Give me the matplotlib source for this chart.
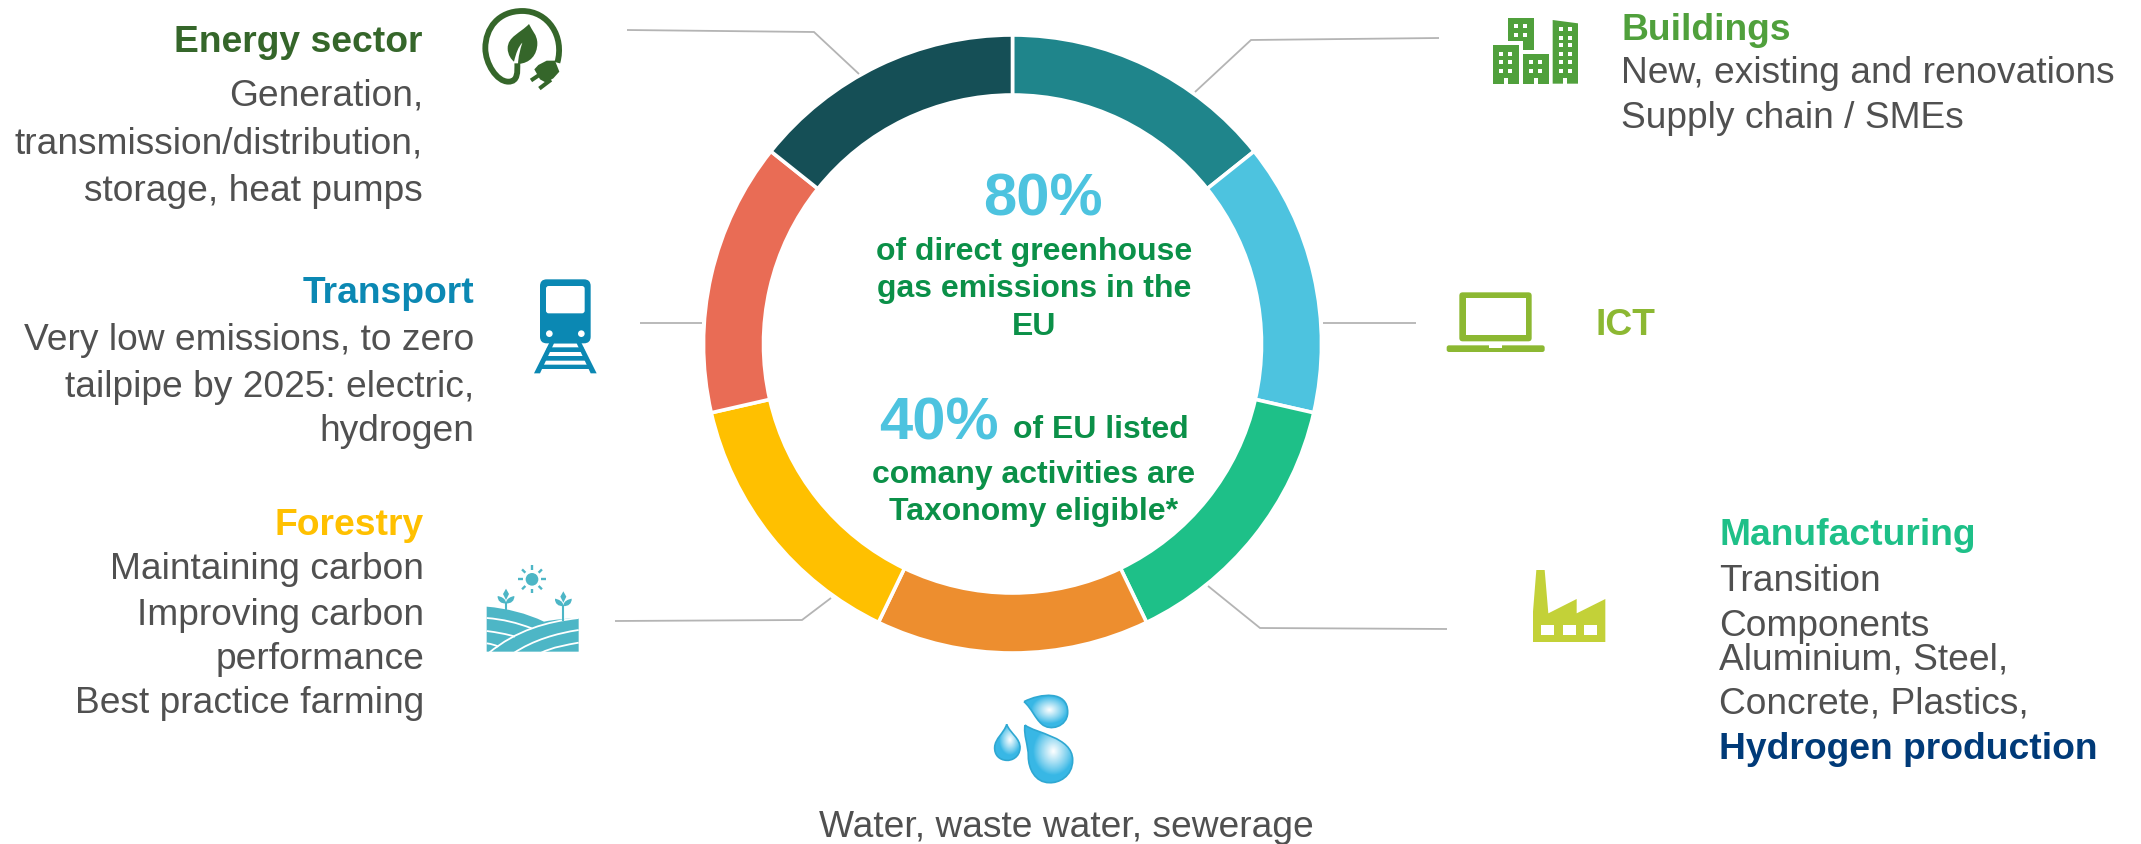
#!/usr/bin/env python3
"""EU Taxonomy sectors: seven-part ring with a label and pictogram per sector."""
import matplotlib
matplotlib.use("Agg")
import matplotlib.pyplot as plt
import matplotlib.patches as mpatches
from matplotlib.path import Path
import numpy as np

W, H = 2141, 844
FONT = "Liberation Sans"
plt.rcParams["font.family"] = FONT

# ring, clockwise from 12 o'clock
sectors = ["Buildings", "ICT", "Manufacturing", "Water", "Forestry", "Transport", "Energy sector"]
shares = [1, 1, 1, 1, 1, 1, 1]
ring_colors = ["#1F858B", "#4DC3DF", "#1EC088", "#ED8E2F", "#FFC000", "#E96C55", "#154F56"]

GREY = "#505050"
LINE = "#B4B4B4"
PCT = "#4DC3DF"
MID = "#0B9048"
DARKGREEN = "#35662A"
BUILD = "#50A03C"
ICT = "#8CB832"
TRAIN = "#0B88B3"
FIELD = "#4DB6C6"
FACTORY = "#C3D138"

BODY = 26.7
HEAD = 26.8

fig = plt.figure(figsize=(W / 100, H / 100), dpi=100)
fig.patch.set_facecolor("white")

# ── ring ───────────────────────────────────────────────────────────────────────
cx, cy, R, r = 1012.5, 344, 309, 249
axR = fig.add_axes([(cx - R) / W, 1 - (cy + R) / H, 2 * R / W, 2 * R / H])
axR.pie(shares, colors=ring_colors, startangle=90, counterclock=False, radius=1,
        wedgeprops=dict(width=(R - r) / R, edgecolor="white", linewidth=2.6))
axR.set_xlim(-1, 1)
axR.set_ylim(-1, 1)

# overlay in pixel coordinates for everything else
ax = fig.add_axes([0, 0, 1, 1])
ax.set_xlim(0, W)
ax.set_ylim(H, 0)
ax.axis("off")
ax.patch.set_alpha(0)


def label(x, y, s, color=GREY, size=BODY, bold=False, ha="left"):
    ax.text(x, y, s, color=color, fontsize=size, ha=ha, va="baseline",
            fontweight="bold" if bold else "normal")


def leader(pts):
    xs, ys = zip(*pts)
    ax.plot(xs, ys, color=LINE, lw=1.3, solid_capstyle="butt", solid_joinstyle="miter")


def poly(pts, color, ox=0, oy=0, s=1.0, **kw):
    pts = [(ox + a / s, oy + b / s) for a, b in pts]
    ax.add_patch(mpatches.Polygon(pts, closed=True, facecolor=color, edgecolor="none", **kw))


def rect(x0, y0, x1, y1, color, ox=0, oy=0, s=1.0):
    ax.add_patch(mpatches.Rectangle((ox + x0 / s, oy + y0 / s), (x1 - x0) / s, (y1 - y0) / s,
                                    facecolor=color, edgecolor="none"))


def rrect(x0, y0, x1, y1, rad, color, ox=0, oy=0, s=1.0):
    ax.add_patch(mpatches.FancyBboxPatch((ox + (x0 + rad) / s, oy + (y0 + rad) / s),
                                         (x1 - x0 - 2 * rad) / s, (y1 - y0 - 2 * rad) / s,
                                         boxstyle=f"round,pad={rad / s},rounding_size={rad / s}",
                                         facecolor=color, edgecolor="none"))


def bez(pts, ox=0, oy=0, s=1.0):
    """closed path: start point followed by cubic triples"""
    verts = [(ox + a / s, oy + b / s) for a, b in pts]
    codes = [Path.MOVETO] + [Path.CURVE4] * (len(verts) - 1)
    return Path(verts, codes)


# leader lines
leader([(627, 30), (814, 32), (859, 74)])
leader([(1195, 92), (1251, 40), (1439, 38)])
leader([(1323, 323), (1416, 323)])
leader([(640, 323), (702, 323)])
leader([(1208, 586), (1260, 628), (1447, 629)])
leader([(831, 598), (802, 620), (615, 621)])

# ── centre text ────────────────────────────────────────────────────────────────
label(1043, 216, "80%", PCT, 43, True, "center")
label(1034, 260, "of direct greenhouse", MID, 23, True, "center")
label(1034, 297, "gas emissions in the", MID, 23, True, "center")
label(1034, 335, "EU", MID, 23, True, "center")
label(879, 439, "40%", PCT, 43, True)
label(1013, 438, "of EU listed", MID, 23, True)
label(1034, 483, "comany activities are", MID, 23, True, "center")
label(1034, 520, "Taxonomy eligible*", MID, 23, True, "center")

# ── sector labels ──────────────────────────────────────────────────────────────
label(423, 52, sectors[6], DARKGREEN, HEAD, True, "right")
label(423, 106, "Generation,", ha="right")
label(423, 154, "transmission/distribution,", ha="right")
label(423, 201, "storage, heat pumps", ha="right")

label(1621, 40, sectors[0], BUILD, HEAD, True)
label(1621, 83, "New, existing and renovations")
label(1621, 128, "Supply chain / SMEs")

label(474, 303, sectors[5], TRAIN, HEAD, True, "right")
label(474, 350, "Very low emissions, to zero", ha="right")
label(474, 397, "tailpipe by 2025: electric,", ha="right")
label(474, 441, "hydrogen", ha="right")

label(424, 535, sectors[4], ring_colors[4], HEAD, True, "right")
label(424, 579, "Maintaining carbon", ha="right")
label(424, 625, "Improving carbon", ha="right")
label(424, 669, "performance", ha="right")
label(424, 713, "Best practice farming", ha="right")

label(1596, 335, sectors[1], ICT, HEAD, True)

label(1719, 545, sectors[2], ring_colors[2], HEAD, True)
label(1719, 591, "Transition")
label(1719, 636, "Components")
label(1719, 670, "Aluminium, Steel,")
label(1719, 714, "Concrete, Plastics,")
label(1719, 759, "Hydrogen production", "#003A78", HEAD, True)

label(1066, 837, "Water, waste water, sewerage", ha="center")

# ── energy pictogram: leaf inside a cable loop ─────────────────────────────────
ox, oy, s = 440, 0, 3
cable = bez([(352, 188), (374, 110), (325, 33), (247, 33), (175, 33), (136, 85), (136, 145),
             (136, 190), (170, 245), (205, 245), (235, 245), (232, 215), (232, 190)], ox, oy, s)
ax.add_patch(mpatches.PathPatch(cable, facecolor="none", edgecolor=DARKGREEN, lw=4.2))
leaf = bez([(267, 72), (240, 100), (203, 110), (203, 145), (203, 165), (215, 180), (222, 185),
            (228, 160), (235, 140), (247, 128), (240, 150), (235, 170), (234, 192),
            (270, 190), (292, 165), (292, 130), (292, 105), (275, 90), (267, 72)], ox, oy, s)
ax.add_patch(mpatches.PathPatch(leaf, facecolor=DARKGREEN, edgecolor="none"))
poly([(283, 208), (295, 195), (320, 182), (345, 182), (358, 215), (340, 235), (318, 248), (300, 238)],
     DARKGREEN, ox, oy, s)
ax.plot([ox + 278 / s, ox + 302 / s], [oy + 238 / s, oy + 222 / s], color=DARKGREEN, lw=2.9)
ax.plot([ox + 303 / s, ox + 328 / s], [oy + 262 / s, oy + 243 / s], color=DARKGREEN, lw=2.9)

# ── buildings pictogram ────────────────────────────────────────────────────────
ox, oy, s = 1400, 0, 3


def windows(xs, ys):
    for a in xs:
        for b in ys:
            rect(a, b, a + 12, b + 12, "white", ox, oy, s)


poly([(324, 54), (401, 54), (401, 149), (369, 149), (369, 123), (324, 123)], BUILD, ox, oy, s)
windows([343, 369], [72, 98])
rect(279, 136, 356, 251, BUILD, ox, oy, s)
rect(369, 162, 446, 251, BUILD, ox, oy, s)
poly([(458, 60), (534, 70), (534, 251), (458, 251)], BUILD, ox, oy, s)
windows([298, 324], [155, 181, 207])
windows([388, 414], [181, 207])
windows([477, 503], [82, 107, 130, 156, 181, 207])
for a in (312, 401, 490):
    rect(a, 233, a + 12, 251, "white", ox, oy, s)

# ── laptop pictogram ───────────────────────────────────────────────────────────
rrect(178, 877, 395, 1024, 10, ICT, ox, oy, s)
rect(197, 895, 377, 1005, "white", ox, oy, s)
rrect(140, 1036, 434, 1056, 7, ICT, ox, oy, s)
rect(268, 1036, 305, 1043, "white", ox, oy, s)

# ── train pictogram ────────────────────────────────────────────────────────────
ox, oy, s = 460, 250, 3
poly([(268, 278), (364, 278), (410, 370), (392, 370), (350, 280), (282, 280), (240, 370), (222, 370)],
     TRAIN, ox, oy, s)
poly([(262, 292), (370, 292), (376, 306), (256, 306)], TRAIN, ox, oy, s)
poly([(250, 318), (382, 318), (388, 332), (244, 332)], TRAIN, ox, oy, s)
poly([(240, 344), (392, 344), (397, 357), (234, 357)], TRAIN, ox, oy, s)
rrect(240, 88, 392, 280, 20, TRAIN, ox, oy, s)
rrect(258, 108, 374, 190, 8, "white", ox, oy, s)
for a in (268, 364):
    ax.add_patch(mpatches.Circle((ox + a / s, oy + 251 / s), 10 / s, facecolor="white", edgecolor="none"))

# ── field pictogram ────────────────────────────────────────────────────────────
ax.add_patch(mpatches.Circle((ox + 216 / s, oy + 988 / s), 19 / s, facecolor=FIELD, edgecolor="none"))
for dx, dy in [(1, 0), (-1, 0), (0, 1), (0, -1), (.71, .71), (-.71, .71), (.71, -.71), (-.71, -.71)]:
    ax.plot([ox + (216 + 28 * dx) / s, ox + (216 + 42 * dx) / s],
            [oy + (988 + 28 * dy) / s, oy + (988 + 42 * dy) / s], color=FIELD, lw=1.7,
            solid_capstyle="butt")
for px, py in [(138, 1060), (310, 1068)]:
    ax.plot([ox + px / s] * 2, [oy + py / s, oy + (py + 42) / s], color=FIELD, lw=1.5)
    poly([(px, py - 44), (px + 9, py - 28), (px, py - 10), (px - 9, py - 28)], FIELD, ox, oy, s)
    ax.add_patch(mpatches.PathPatch(bez([(px, py), (px - 15, py + 2), (px - 26, py - 8), (px - 25, py - 22),
                                         (px - 15, py - 20), (px, py - 15), (px, py)], ox, oy, s),
                                    facecolor=FIELD, edgecolor="none"))
    ax.add_patch(mpatches.PathPatch(bez([(px, py), (px + 15, py + 2), (px + 26, py - 8), (px + 25, py - 22),
                                         (px + 15, py - 20), (px, py - 15), (px, py)], ox, oy, s),
                                    facecolor=FIELD, edgecolor="none"))
land = bez([(80, 1070), (140, 1075), (200, 1090), (252, 1115), (285, 1108), (320, 1106), (356, 1104),
            (356, 1140), (356, 1170), (356, 1205), (260, 1205), (170, 1205), (80, 1205),
            (80, 1160), (80, 1115), (80, 1070)], ox, oy, s)
ax.add_patch(mpatches.PathPatch(land, facecolor=FIELD, edgecolor="none"))
for a, b, c, d in [((80, 1104), (130, 1108), (170, 1118), (215, 1135)),
                   ((80, 1143), (110, 1147), (140, 1152), (165, 1160)),
                   ((80, 1180), (95, 1182), (105, 1185), (115, 1190)),
                   ((85, 1210), (170, 1140), (260, 1115), (356, 1104)),
                   ((160, 1210), (220, 1170), (290, 1150), (356, 1140)),
                   ((240, 1210), (280, 1190), (320, 1185), (356, 1178))]:
    pth = bez([a, b, c, d], ox, oy, s)
    ax.add_patch(mpatches.PathPatch(pth, facecolor="none", edgecolor="white", lw=1.3))
rect(60, 1205, 380, 1225, "white", ox, oy, s)

# ── factory pictogram ──────────────────────────────────────────────────────────
ox, oy, s = 1480, 540, 3
poly([(159, 306), (159, 215), (169, 90), (194, 90), (205, 220), (290, 177), (290, 220),
      (376, 177), (376, 306)], FACTORY, ox, oy, s)
for a in (184, 248, 312):
    rect(a, 256, a + 39, 285, "white", ox, oy, s)

# ── water drops with a soft highlight ──────────────────────────────────────────
ox, oy, s = 960, 670, 3
drops = [
    [(195, 165), (225, 190), (338, 200), (338, 270), (338, 320), (295, 340), (268, 338),
     (225, 338), (205, 295), (205, 260), (205, 225), (190, 195), (195, 165)],
    [(192, 95), (240, 70), (325, 60), (323, 128), (322, 170), (270, 185), (245, 162),
     (225, 145), (215, 115), (192, 95)],
    [(140, 163), (150, 190), (182, 205), (180, 235), (178, 262), (155, 272), (140, 271),
     (118, 270), (103, 255), (104, 232), (105, 205), (132, 190), (140, 163)],
]
for d in drops:
    pth = bez(d, ox, oy, s)
    ext = pth.get_extents()
    yy, xx = np.mgrid[0:1:64j, 0:1:64j]
    shade = np.clip(1 - np.hypot(xx - 0.58, yy - 0.45) * 2.4, 0, 1)
    base = np.array([0.22, 0.72, 0.90])
    img = base + (1 - base) * shade[..., None] ** 0.9
    im = ax.imshow(img, extent=(ext.x0, ext.x1, ext.y1, ext.y0), zorder=2, aspect="auto",
                   interpolation="bilinear")
    patch = mpatches.PathPatch(pth, facecolor="none", edgecolor="#2FA8D2", lw=1.2, zorder=3)
    ax.add_patch(patch)
    im.set_clip_path(patch)

ax.set_xlim(0, W)
ax.set_ylim(H, 0)

fig.savefig("out.png", dpi=100, facecolor="white")
plt.close(fig)
